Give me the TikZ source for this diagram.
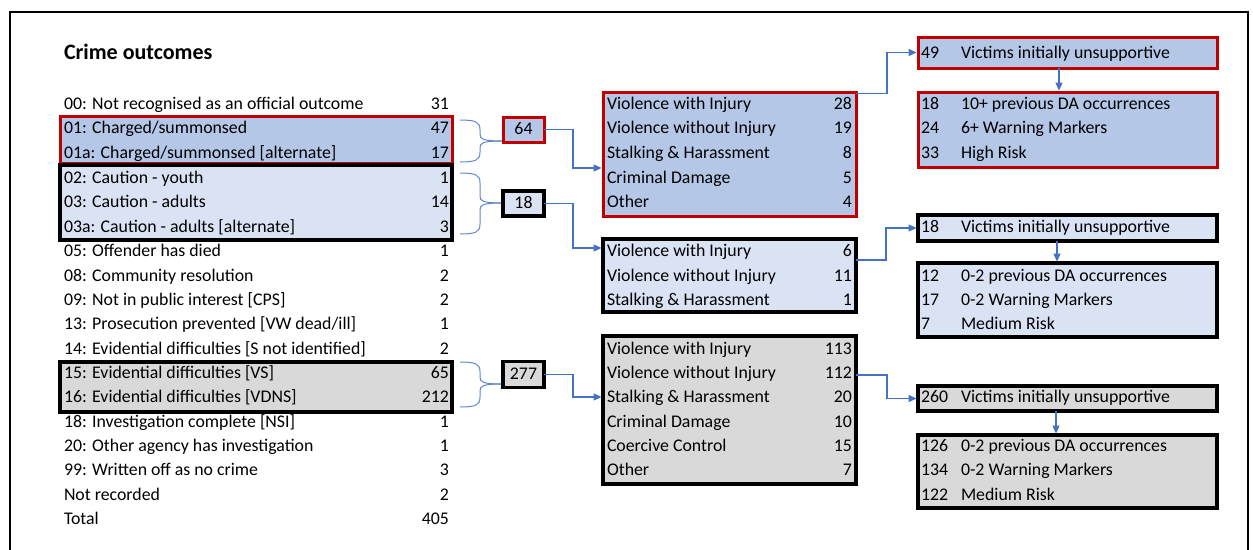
\documentclass[tikz,border=0pt]{standalone}
\usepackage{fontspec}
\setmainfont{Carlito}
\usetikzlibrary{arrows.meta}
\definecolor{bmid}{HTML}{B4C7E7}
\definecolor{blight}{HTML}{DAE3F3}
\definecolor{gfill}{HTML}{D9D9D9}
\definecolor{dred}{HTML}{C00000}
\definecolor{abl}{HTML}{4472C4}
\newcommand\tabrow[4]{\node[lbl] (l#1) at (64,#2) {#3}; \node[num] (n#1) at (449,#2) {#4};}
\newcommand\midrow[4]{\node[lbl] (#1a) at (607,#2) {#3}; \node[num] (#1b) at (852,#2) {#4};}
\newcommand\rgtrow[4]{\node[lbl] (#1a) at (921,#2) {#3}; \node[lbl] (#1b) at (961,#2) {#4};}
\begin{document}
\begin{tikzpicture}[x=1pt,y=-1pt,
  every node/.style={inner sep=0pt, outer sep=0pt},
  tx/.style={font=\fontsize{17.8}{21}\selectfont, text height=13pt, text depth=2.5pt},
  lbl/.style={tx, anchor=west},
  num/.style={tx, anchor=east},
  redb/.style={draw=dred, line width=3pt},
  blkb/.style={draw=black, line width=3.2pt},
  conn/.style={draw=abl, line width=1.1pt, shorten >=1.4pt, -{Triangle[length=8pt,width=7pt]}},
  brc/.style={draw=abl!85, line width=1pt}]
\useasboundingbox (0,0) rectangle (1253,549);
\fill[white] (0,0) rectangle (1253,549);
\draw[line width=2.5pt] (10,560) -- (10,12) -- (1248,12) -- (1248,560);

\node[anchor=west, font=\bfseries\fontsize{22}{26}\selectfont, text height=15pt, text depth=0pt] (title) at (64,52) {Crime outcomes};

% left highlight boxes
\node[redb, fill=bmid, minimum width=392, minimum height=47] (gA) at (256,140) {};
\node[blkb, fill=blight, minimum width=392, minimum height=75] (gB) at (256,202.5) {};
\node[blkb, fill=gfill, minimum width=392, minimum height=50] (gC) at (256,387) {};

\tabrow{00}{104}{00: Not recognised as an official outcome}{31}
\tabrow{01}{128}{01: Charged/summonsed}{47}
\tabrow{01a}{153}{01a: Charged/summonsed [alternate]}{17}
\tabrow{02}{178}{02: Caution - youth}{1}
\tabrow{03}{202}{03: Caution - adults}{14}
\tabrow{03a}{227}{03a: Caution - adults [alternate]}{3}
\tabrow{05}{251}{05: Offender has died}{1}
\tabrow{08}{276}{08: Community resolution}{2}
\tabrow{09}{300}{09: Not in public interest [CPS]}{2}
\tabrow{13}{324}{13: Prosecution prevented [VW dead/ill]}{1}
\tabrow{14}{349}{14: Evidential difficulties [S not identified]}{2}
\tabrow{15}{373}{15: Evidential difficulties [VS]}{65}
\tabrow{16}{397}{16: Evidential difficulties [VDNS]}{212}
\tabrow{18}{422}{18: Investigation complete [NSI]}{1}
\tabrow{20}{446}{20: Other agency has investigation}{1}
\tabrow{99}{470}{99: Written off as no crime}{3}
\tabrow{nr}{495}{Not recorded}{2}
\tabrow{tot}{519}{Total}{405}

% braces
\draw[brc] (460,120) .. controls (476,120) and (480,122) .. (480,130) -- (480,134) .. controls (480,139) and (482,141) .. (503,141);
\draw[brc] (460,162) .. controls (476,162) and (480,160) .. (480,152) -- (480,148) .. controls (480,143) and (482,141) .. (503,141);
\draw[brc] (460,173) .. controls (476,173) and (480,175) .. (480,183) -- (480,196) .. controls (480,201) and (482,203) .. (503,203);
\draw[brc] (460,234) .. controls (476,234) and (480,232) .. (480,224) -- (480,210) .. controls (480,205) and (482,203) .. (503,203);
\draw[brc] (460,362) .. controls (476,362) and (480,364) .. (480,372) -- (480,377) .. controls (480,382) and (482,384) .. (503,384);
\draw[brc] (460,407) .. controls (476,407) and (480,405) .. (480,397) -- (480,391) .. controls (480,386) and (482,384) .. (503,384);

% sum boxes
\node[redb, fill=bmid, minimum width=41, minimum height=25, tx] (s64) at (523.5,129.5) {64};
\node[blkb, fill=blight, minimum width=41, minimum height=25, tx] (s18) at (523.5,203.5) {18};
\node[blkb, fill=gfill, minimum width=41, minimum height=26, tx] (s277) at (523.5,374.5) {277};

% middle boxes
\node[redb, fill=bmid, minimum width=253, minimum height=124] (b1) at (729.5,154) {};
\node[blkb, fill=blight, minimum width=253, minimum height=73] (b2) at (729.5,275.5) {};
\node[blkb, fill=gfill, minimum width=253, minimum height=148] (b3) at (729.5,410) {};

\midrow{m11}{104}{Violence with Injury}{28}
\midrow{m12}{128}{Violence without Injury}{19}
\midrow{m13}{153}{Stalking \& Harassment}{8}
\midrow{m14}{178}{Criminal Damage}{5}
\midrow{m15}{202}{Other}{4}

\midrow{m21}{251}{Violence with Injury}{6}
\midrow{m22}{276}{Violence without Injury}{11}
\midrow{m23}{300}{Stalking \& Harassment}{1}

\midrow{m31}{349}{Violence with Injury}{113}
\midrow{m32}{373}{Violence without Injury}{112}
\midrow{m33}{397}{Stalking \& Harassment}{20}
\midrow{m34}{422}{Criminal Damage}{10}
\midrow{m35}{446}{Coercive Control}{15}
\midrow{m36}{470}{Other}{7}

% right boxes
\node[redb, fill=bmid, minimum width=299, minimum height=31] (v1) at (1067.5,52.5) {};
\node[redb, fill=bmid, minimum width=299, minimum height=75] (d1) at (1067.5,129.5) {};
\node[blkb, fill=blight, minimum width=299, minimum height=26] (v2) at (1067.5,228) {};
\node[blkb, fill=blight, minimum width=299, minimum height=74] (d2) at (1067.5,300) {};
\node[blkb, fill=gfill, minimum width=299, minimum height=25] (v3) at (1067.5,398.5) {};
\node[blkb, fill=gfill, minimum width=299, minimum height=73] (d3) at (1067.5,471.5) {};

\rgtrow{r10}{53}{49}{Victims initially unsupportive}
\rgtrow{r11}{104}{18}{10+ previous DA occurrences}
\rgtrow{r12}{128}{24}{6+ Warning Markers}
\rgtrow{r13}{153}{33}{High Risk}
\rgtrow{r20}{227}{18}{Victims initially unsupportive}
\rgtrow{r21}{276}{12}{0-2 previous DA occurrences}
\rgtrow{r22}{300}{17}{0-2 Warning Markers}
\rgtrow{r23}{324}{7}{Medium Risk}
\rgtrow{r30}{397}{260}{Victims initially unsupportive}
\rgtrow{r31}{446}{126}{0-2 previous DA occurrences}
\rgtrow{r32}{470}{134}{0-2 Warning Markers}
\rgtrow{r33}{495}{122}{Medium Risk}

% connectors
\draw[conn] (s64.east) -- ++(29,0) |- ([yshift=-14pt]b1.west);
\draw[conn] (s18.east) -- ++(29,0) |- ([yshift=27.5pt]b2.west);
\draw[conn] (s277.east) -- ++(29,0) |- ([yshift=13pt]b3.west);
\draw[conn] ([yshift=-1.5pt]b1.north east) -- ++(31,0) |- (v1.west);
\draw[conn] ([yshift=15.5pt]b2.east) -- ++(30,0) |- (v2.west);
\draw[conn] ([yshift=35pt]b3.east) -- ++(31,0) |- (v3.west);
\draw[conn] ([xshift=-8.5pt]v1.south) -- ([xshift=-8.5pt]d1.north);
\draw[conn] ([xshift=-10.5pt]v2.south) -- ([xshift=-10.5pt]d2.north);
\draw[conn] ([xshift=-11.5pt]v3.south) -- ([xshift=-11.5pt]d3.north);
\end{tikzpicture}
\end{document}
